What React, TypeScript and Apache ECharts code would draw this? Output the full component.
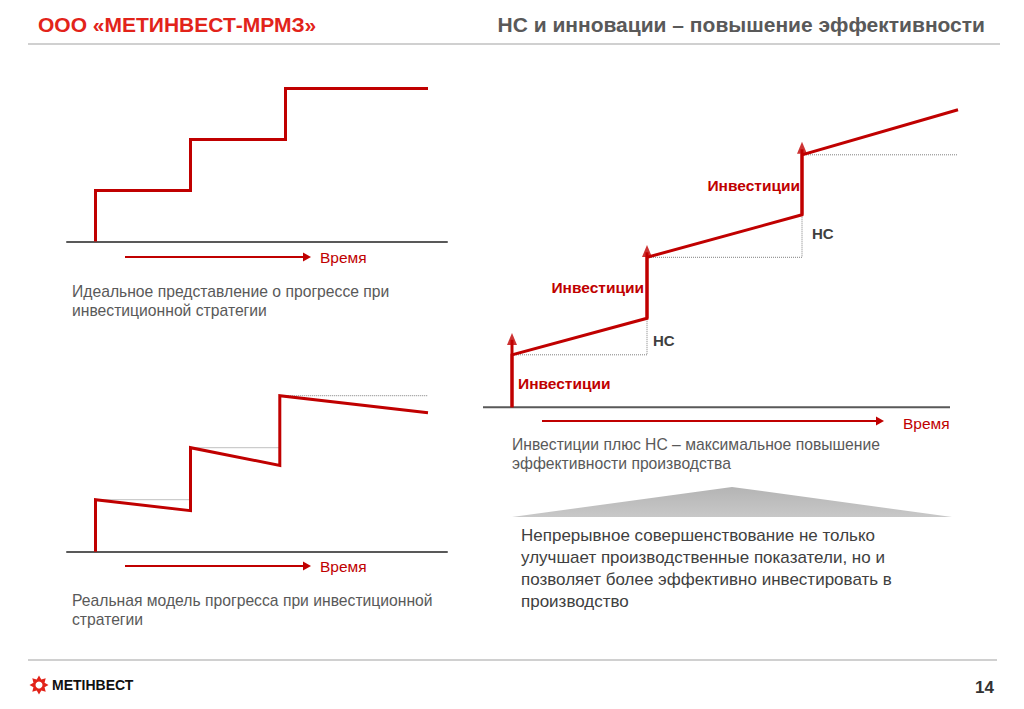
import React, { useEffect, useRef } from "react";
import * as echarts from "echarts";

// ---- Data (abstract units: x = time, y = efficiency level) ----
const idealSteps: number[][] = [[0, 0], [0, 1], [1, 1], [1, 2], [2, 2], [2, 3], [3.5, 3]];
const realSteps: number[][] = [[0, 0], [0, 1], [1, 0.79], [1, 2], [1.94, 1.66], [1.94, 3], [3.5, 2.67]];
const realPlateaus: number[][][] = [
  [[0, 1], [1, 1]],
  [[1, 2], [1.94, 2]],
  [[1.94, 3], [3.5, 3]],
];
const ncGrowth: number[][] = [[0, 0], [0, 1.05], [2.7, 1.78], [2.7, 3.0], [5.8, 3.85], [5.8, 5.05], [8.92, 5.95]];
const ncPlateaus: number[][][] = [
  [[0, 1.05], [2.7, 1.05], [2.7, 1.78]],
  [[2.7, 3.0], [5.8, 3.0], [5.8, 3.85]],
  [[5.8, 5.05], [8.92, 5.05]],
];
const ncBaseline: number[][] = [[-0.58, 0], [8.76, 0]];
const investStems: number[][][] = [
  [[0, 0], [0, 1.35]],
  [[2.7, 1.78], [2.7, 3.1]],
  [[5.8, 3.85], [5.8, 5.16]],
];
const investTips: number[][] = [[0, 1.486], [2.7, 3.246], [5.8, 5.31]];

const headerLeft = "ООО «МЕТИНВЕСТ-МРМЗ»";
const headerRight = "НС и инновации – повышение эффективности";
const timeLabel = "Время";
const investLabel = "Инвестиции";
const ncLabel = "НС";
const caption1 = ["Идеальное представление о прогрессе при", "инвестиционной стратегии"];
const caption2 = ["Реальная модель прогресса при инвестиционной", "стратегии"];
const caption3 = ["Инвестиции плюс НС – максимальное повышение", "эффективности производства"];
const conclusion = [
  "Непрерывное совершенствование не только",
  "улучшает производственные показатели, но и",
  "позволяет более эффективно инвестировать в",
  "производство",
];
const brand = "МЕТІНВЕСТ";
const pageNo = "14";

const RED = "#c00000";
const FONT = "'Liberation Sans', Arial, sans-serif";

function xAxisFor(gridIndex: number, min: number, max: number, showLine = true) {
  return {
    type: "value",
    gridIndex,
    min,
    max,
    axisLine: { show: showLine, onZero: false, lineStyle: { color: "#595959", width: 2 } },
    axisTick: { show: false },
    axisLabel: { show: false },
    splitLine: { show: false },
  };
}
function yAxisFor(gridIndex: number, max: number) {
  return {
    type: "value",
    gridIndex,
    min: 0,
    max,
    show: false,
    splitLine: { show: false },
  };
}
function redLine(idx: number, data: number[][], extra: any = {}) {
  return {
    type: "line",
    xAxisIndex: idx,
    yAxisIndex: idx,
    data,
    symbol: "none",
    clip: false,
    z: 5,
    lineStyle: { color: RED, width: 3, join: "miter" },
    ...extra,
  };
}
function dotLine(idx: number, data: number[][]) {
  return {
    type: "line",
    xAxisIndex: idx,
    yAxisIndex: idx,
    data,
    symbol: "none",
    clip: false,
    z: 3,
    lineStyle: { color: "#808080", width: 1, type: "dotted" },
  };
}

function timeArrow(x1: number, x2: number, y: number) {
  return [
    { type: "line", shape: { x1, y1: y, x2: x2 - 6, y2: y }, style: { stroke: RED, lineWidth: 2 } },
    {
      type: "polygon",
      shape: { points: [[x2 - 8, y - 4.5], [x2, y], [x2 - 8, y + 4.5]] },
      style: { fill: RED },
    },
  ];
}
function txt(x: number, y: number, text: string, size: number, color: string, weight = "normal", align = "left") {
  return {
    type: "text",
    x,
    y,
    style: { text, fontSize: size, fill: color, fontWeight: weight, fontFamily: FONT, textAlign: align, textVerticalAlign: "middle" },
  };
}

function starPoints(cx: number, cy: number, ro: number, ri: number, n: number) {
  const pts: number[][] = [];
  for (let i = 0; i < n * 2; i++) {
    const r = i % 2 === 0 ? ro : ri;
    const a = (Math.PI * i) / n - Math.PI / 2;
    pts.push([cx + r * Math.cos(a), cy + r * Math.sin(a)]);
  }
  return pts;
}

export default function App() {
  const ref = useRef<HTMLDivElement>(null);
  useEffect(() => {
    const chart = echarts.init(ref.current!, null, { renderer: "svg" });
    const CAP = 15.7;
    const graphics: any[] = [
      // header
      txt(38, 24, headerLeft, 21, "#e2231a", "bold"),
      txt(985, 24, headerRight, 21, "#595959", "bold", "right"),
      { type: "line", shape: { x1: 28, y1: 44, x2: 1000, y2: 44 }, style: { stroke: "#d0d0d0", lineWidth: 2 } },
      // footer
      { type: "line", shape: { x1: 28, y1: 660, x2: 997, y2: 660 }, style: { stroke: "#d0d0d0", lineWidth: 2 } },
      { type: "polygon", shape: { points: starPoints(39, 685, 9.5, 6, 8) }, style: { fill: "#e2231a" } },
      { type: "circle", shape: { cx: 39, cy: 685, r: 3.5 }, style: { fill: "#fff" } },
      txt(52, 685, brand, 14, "#111", "bold"),
      txt(994, 687, pageNo, 17, "#333", "bold", "right"),
      // time arrows
      ...timeArrow(125, 311, 257),
      ...timeArrow(125, 311, 566),
      ...timeArrow(542, 884, 421),
      txt(320, 257, timeLabel, 15.5, RED),
      txt(320, 566, timeLabel, 15.5, RED),
      txt(903, 423, timeLabel, 15.5, RED),
      // captions
      txt(72, 291, caption1[0], CAP, "#595959"),
      txt(72, 310, caption1[1], CAP, "#595959"),
      txt(72, 600, caption2[0], CAP, "#595959"),
      txt(72, 619, caption2[1], CAP, "#595959"),
      txt(512, 444, caption3[0], CAP, "#595959"),
      txt(512, 463, caption3[1], CAP, "#595959"),
      // annotations in chart 3
      txt(518, 383, investLabel, 15.5, RED, "bold"),
      txt(644, 287, investLabel, 15.5, RED, "bold", "right"),
      txt(800, 185, investLabel, 15.5, RED, "bold", "right"),
      txt(653, 340, ncLabel, 15, "#404040", "bold"),
      txt(812, 233, ncLabel, 15, "#404040", "bold"),
      // grey triangle
      {
        type: "polygon",
        shape: { points: [[512, 517], [732, 487], [952, 517]] },
        style: {
          fill: new echarts.graphic.LinearGradient(0, 0, 0, 1, [
            { offset: 0, color: "#b4b4b4" },
            { offset: 1, color: "#c8c8c8" },
          ]),
        },
      },
      ...conclusion.map((l, i) => txt(521, 535 + i * 22, l, 17, "#404040")),
    ];

    const series: any[] = [
      redLine(0, idealSteps),
      redLine(1, realSteps),
      ...realPlateaus.map((d) => dotLine(1, d)),
      {
        type: "line",
        xAxisIndex: 2,
        yAxisIndex: 2,
        data: ncBaseline,
        symbol: "none",
        clip: false,
        z: 2,
        lineStyle: { color: "#595959", width: 2 },
      },
      redLine(2, ncGrowth),
      ...ncPlateaus.map((d) => dotLine(2, d)),
      ...investStems.map((d) => redLine(2, d)),
      {
        type: "scatter",
        xAxisIndex: 2,
        yAxisIndex: 2,
        data: investTips,
        symbol: "triangle",
        symbolSize: [10, 12],
        symbolOffset: [0, "50%"],
        itemStyle: { color: RED },
        clip: false,
        z: 6,
      },
    ];

    chart.setOption({
      animation: false,
      backgroundColor: "#ffffff",
      textStyle: { fontFamily: FONT },
      grid: [
        { left: 67, top: 37.5, width: 380, height: 204 },
        { left: 67, top: 343.7, width: 380, height: 208 },
        { left: 483, top: 82.3, width: 480, height: 325 },
      ],
      xAxis: [xAxisFor(0, -0.3, 3.7), xAxisFor(1, -0.3, 3.7), xAxisFor(2, -0.58, 9.02, false)],
      yAxis: [yAxisFor(0, 4), yAxisFor(1, 4), yAxisFor(2, 6.5)],
      series,
      graphic: graphics,
    });
    return () => chart.dispose();
  }, []);
  return (
    <div style={{ position: "fixed", left: 0, top: 0, width: 1024, height: 709, background: "#fff" }}>
      <div ref={ref} style={{ width: 1024, height: 709 }} />
    </div>
  );
}
